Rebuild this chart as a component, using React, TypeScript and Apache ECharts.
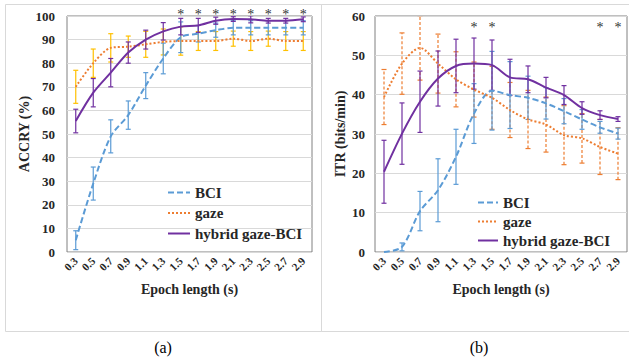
import React, { useEffect, useRef } from 'react';
import * as echarts from 'echarts';

const epochs = ['0.3', '0.5', '0.7', '0.9', '1.1', '1.3', '1.5', '1.7', '1.9', '2.1', '2.3', '2.5', '2.7', '2.9'];
const seriesNames = ['BCI', 'gaze', 'hybrid gaze-BCI'];

// (a) accuracy (%)
const accBCI = [5, 29, 49, 58, 70.5, 82, 91, 92.5, 94, 95, 95, 95, 95, 95];
const accBCIErr = [4, 7, 7, 6, 5.5, 6.5, 6.5, 3.5, 3, 3, 3, 3, 3, 3];
const accGaze = [70, 80, 86.5, 87, 88, 89, 89.4, 89.4, 89.4, 90.4, 89.4, 90.4, 89.4, 89.4];
const accGazeErr = [7, 6, 6, 4.5, 5.5, 5.5, 6, 4, 4, 3.2, 4, 3.2, 4, 4];
const accHybrid = [55.5, 67.5, 76, 84.5, 90, 93.5, 95.5, 96, 98, 98.7, 98.6, 98, 98, 98.6];
const accHybridErr = [5, 6, 6, 4.5, 4, 3.7, 3.5, 3, 1.5, 1, 1.5, 1, 1, 1];
const accSignificant = ['1.5', '1.7', '1.9', '2.1', '2.3', '2.5', '2.7', '2.9'];

// (b) ITR (bits/min)
const itrBCI = [0, 1.3, 10.4, 15.7, 24.2, 35.2, 41, 39.9, 39.2, 37.8, 35.8, 33.7, 31.7, 30.1];
const itrBCIErr = [0, 1, 5, 8, 7, 7.6, 10, 8.5, 5.5, 4, 3.2, 2.5, 1.5, 1.4];
const itrGaze = [39.4, 47.9, 51.9, 47.9, 43.9, 41.3, 39.2, 36.1, 33.7, 32.4, 29.7, 28.9, 26.7, 25];
const itrGazeErr = [7, 7.8, 8.2, 7.5, 7, 7, 8, 7, 7.4, 7, 7.5, 6.3, 7, 6.6];
const itrHybrid = [20.4, 30.1, 38.2, 44.1, 47.3, 47.9, 47.5, 44.4, 43.9, 41.8, 39.9, 36.6, 34.8, 33.8];
const itrHybridErr = [8, 7.8, 7.8, 7, 6.8, 6.5, 6.4, 4.6, 3.4, 2.6, 2.4, 1.6, 1.1, 0.6];
const itrSignificant = ['1.3', '1.5', '2.7', '2.9'];

const FONT = 'Liberation Serif';
const TXT = '#262626';
const BLUE = '#5B9BD5';
const ORANGE = '#ED7D31';
const GOLD = '#FFC000';
const PURPLE = '#7030A0';

function errSeries(g: number, mean: number[], err: number[], color: string, dashed: boolean) {
  return {
    type: 'custom',
    xAxisIndex: g,
    yAxisIndex: g,
    silent: true,
    z: 1,
    clip: true,
    encode: { x: 0, y: [1, 2] },
    data: mean.map((m, i) => [i, m - err[i], m + err[i]]),
    renderItem: (params: any, api: any) => {
      const i = api.value(0);
      const lo = api.coord([i, api.value(1)]);
      const hi = api.coord([i, api.value(2)]);
      if (Math.abs(lo[1] - hi[1]) < 0.5) return { type: 'group', children: [] };
      const base = { stroke: color, lineWidth: 1.2, fill: null };
      const hw = 2.5;
      return {
        type: 'group',
        children: [
          { type: 'line', shape: { x1: lo[0], y1: lo[1], x2: hi[0], y2: hi[1] }, style: { ...base, lineDash: dashed ? [3, 2] : null } },
          { type: 'line', shape: { x1: lo[0] - hw, y1: lo[1], x2: lo[0] + hw, y2: lo[1] }, style: base },
          { type: 'line', shape: { x1: hi[0] - hw, y1: hi[1], x2: hi[0] + hw, y2: hi[1] }, style: base },
        ],
      };
    },
  };
}

function lineSeries(g: number, name: string, data: number[], color: string, type: any) {
  return {
    type: 'line',
    name,
    xAxisIndex: g,
    yAxisIndex: g,
    data,
    symbol: 'none',
    smooth: 0.3,
    z: 3,
    lineStyle: { color, width: 2, type },
    itemStyle: { color },
  };
}

function starSeries(g: number, cats: string[], y: number) {
  return {
    type: 'custom',
    xAxisIndex: g,
    yAxisIndex: g,
    silent: true,
    clip: false,
    z: 5,
    itemStyle: { color: '#333' },
    encode: { x: 0, y: 1 },
    data: cats.map((c) => [epochs.indexOf(c), y]),
    renderItem: (params: any, api: any) => {
      const p = api.coord([api.value(0), api.value(1)]);
      return {
        type: 'text',
        x: p[0],
        y: p[1],
        style: {
          text: '*', fill: '#333', stroke: '#333', lineWidth: 0,
          fontSize: 14, fontFamily: FONT, align: 'center', verticalAlign: 'middle',
        },
      };
    },
  };
}

const xAxisCommon = (g: number) => ({
  type: 'category',
  gridIndex: g,
  data: epochs,
  boundaryGap: true,
  axisLine: { show: false },
  axisTick: { show: false },
  axisLabel: { rotate: 45, fontSize: 11, fontWeight: 'bold', fontFamily: FONT, color: TXT, margin: 7, interval: 0 },
  name: 'Epoch length (s)',
  nameLocation: 'middle',
  nameGap: 30,
  nameTextStyle: { fontSize: 14, fontWeight: 'bold', fontFamily: FONT, color: TXT },
  splitLine: { show: false },
});

const legendCommon = {
  orient: 'vertical',
  data: seriesNames,
  itemHeight: 14,
  padding: 0,
  selectedMode: false,
  itemStyle: { opacity: 0 },
  textStyle: { fontSize: 15, fontWeight: 'bold', fontFamily: FONT, color: TXT },
};

const option: any = {
  animation: false,
  backgroundColor: '#fff',
  textStyle: { fontFamily: FONT },
  grid: [
    { left: 67, top: 16, width: 245, height: 236, show: true, borderColor: '#808080', borderWidth: 1 },
    { left: 375, top: 16, width: 252, height: 236, show: true, borderColor: '#808080', borderWidth: 1 },
  ],
  xAxis: [xAxisCommon(0), xAxisCommon(1)],
  yAxis: [
    {
      type: 'value', gridIndex: 0, min: 0, max: 100, interval: 10,
      axisLine: { show: false }, axisTick: { show: false },
      axisLabel: { fontSize: 13, fontWeight: 'bold', fontFamily: FONT, color: TXT, margin: 12 },
      splitLine: { lineStyle: { color: '#d9d9d9' } },
      name: 'ACCRY (%)', nameLocation: 'middle', nameGap: 35,
      nameTextStyle: { fontSize: 14, fontWeight: 'bold', fontFamily: FONT, color: TXT },
    },
    {
      type: 'value', gridIndex: 1, min: 0, max: 60, interval: 10,
      axisLine: { show: false }, axisTick: { show: false },
      axisLabel: { fontSize: 13, fontWeight: 'bold', fontFamily: FONT, color: TXT, margin: 10 },
      splitLine: { lineStyle: { color: '#d9d9d9' } },
      name: 'ITR (bits/min)', nameLocation: 'middle', nameGap: 28,
      nameTextStyle: { fontSize: 14, fontWeight: 'bold', fontFamily: FONT, color: TXT },
    },
  ],
  legend: [
    { ...legendCommon, left: 167, top: 185, itemWidth: 22, itemGap: 5.5 },
    { ...legendCommon, left: 477, top: 195, itemWidth: 20, itemGap: 4 },
  ],
  graphic: [
    { type: 'rect', shape: { x: 5.5, y: 4.5, width: 316, height: 327 }, style: { fill: null, stroke: '#d9d9d9', lineWidth: 1 }, silent: true, z: -10 },
    { type: 'rect', shape: { x: 321.5, y: 4.5, width: 312, height: 327 }, style: { fill: null, stroke: '#d9d9d9', lineWidth: 1 }, silent: true, z: -10 },
    { type: 'text', x: 163, y: 347, style: { text: '(a)', fontSize: 16, fontFamily: FONT, fill: '#000', textAlign: 'center', textVerticalAlign: 'middle' } },
    { type: 'text', x: 479, y: 347, style: { text: '(b)', fontSize: 16, fontFamily: FONT, fill: '#000', textAlign: 'center', textVerticalAlign: 'middle' } },
  ],
  series: [
    errSeries(0, accGaze, accGazeErr, GOLD, false),
    errSeries(0, accBCI, accBCIErr, BLUE, false),
    errSeries(0, accHybrid, accHybridErr, PURPLE, false),
    lineSeries(0, 'BCI', accBCI, BLUE, [6, 3]),
    lineSeries(0, 'gaze', accGaze, ORANGE, [2, 2]),
    lineSeries(0, 'hybrid gaze-BCI', accHybrid, PURPLE, 'solid'),
    starSeries(0, accSignificant, 100.6),
    errSeries(1, itrGaze, itrGazeErr, ORANGE, true),
    errSeries(1, itrBCI, itrBCIErr, BLUE, false),
    errSeries(1, itrHybrid, itrHybridErr, PURPLE, false),
    lineSeries(1, 'BCI', itrBCI, BLUE, [6, 3]),
    lineSeries(1, 'gaze', itrGaze, ORANGE, [2, 2]),
    lineSeries(1, 'hybrid gaze-BCI', itrHybrid, PURPLE, 'solid'),
    starSeries(1, itrSignificant, 57.1),
  ],
};

export default function App() {
  const ref = useRef<HTMLDivElement>(null);
  useEffect(() => {
    document.body.style.margin = '0';
    const chart = echarts.init(ref.current as HTMLDivElement, null, { renderer: 'svg' });
    chart.setOption(option);
    return () => chart.dispose();
  }, []);
  return <div ref={ref} style={{ width: 629, height: 360, background: '#fff' }} />;
}
